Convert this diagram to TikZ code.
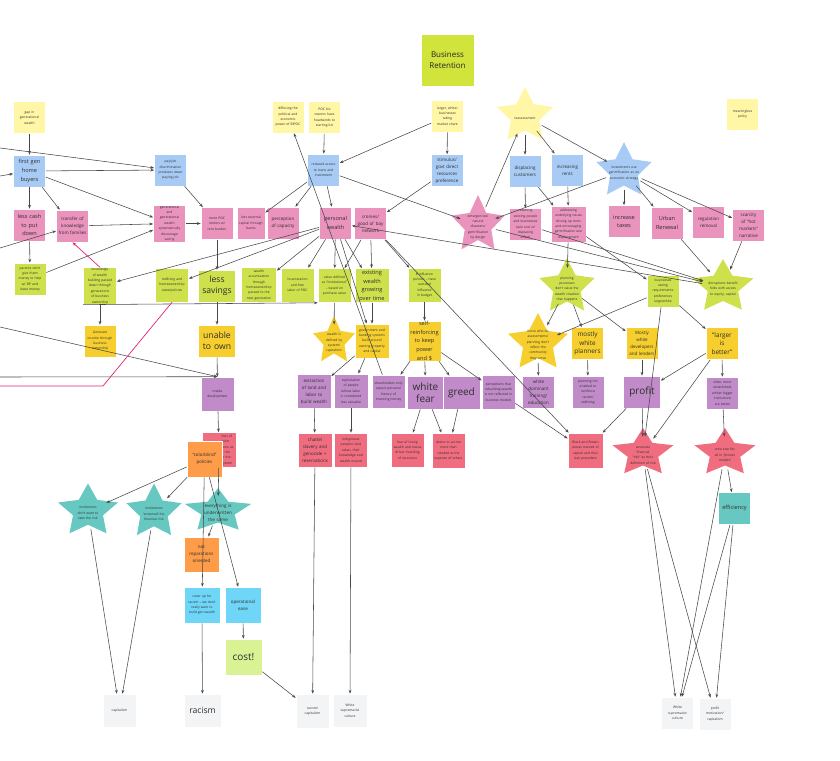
\documentclass[tikz,border=0pt]{standalone}
\usepackage{fontspec}
\setmainfont{Open Sans}
\usetikzlibrary{shapes.geometric,arrows.meta}

\definecolor{cyel}{HTML}{FFF6A6}
\definecolor{clime}{HTML}{CEE14C}
\definecolor{cbr}{HTML}{D0E43C}
\definecolor{cblue}{HTML}{A7CBF4}
\definecolor{cpink}{HTML}{EA93BD}
\definecolor{cgold}{HTML}{F6CF2E}
\definecolor{cpurp}{HTML}{C08BC8}
\definecolor{cred}{HTML}{F06D80}
\definecolor{cteal}{HTML}{67C8C1}
\definecolor{corange}{HTML}{FE9C49}
\definecolor{ccyan}{HTML}{6FD6F8}
\definecolor{cgreen}{HTML}{D9F293}
\definecolor{cgray}{HTML}{F3F4F6}
\definecolor{cline}{HTML}{484848}
\definecolor{cmag}{HTML}{E0217A}
\definecolor{ctext}{HTML}{2E2E2E}

% font sizes used on the notes
\newcommand\nohy{\hyphenpenalty=10000\exhyphenpenalty=10000\relax}
\newcommand\ftA{\fontsize{3.3}{5.4}\selectfont\nohy}
\newcommand\ftB{\fontsize{4.5}{7}\selectfont\nohy}
\newcommand\ftC{\fontsize{5.6}{8.6}\selectfont\nohy}
\newcommand\ftD{\fontsize{6.4}{8.8}\selectfont\nohy}
\newcommand\ftE{\fontsize{8.6}{11.5}\selectfont\nohy}
\newcommand\ftF{\fontsize{10}{12.5}\selectfont\nohy}

% star note: name, x, y, x radius, y radius, colour, text options, text
\newcommand\starnote[8]{%
  \fill[#6] plot[samples at={0,...,9}, variable=\k]
    ({#2+ifthenelse(mod(\k,2)==0,1,0.5)*#4*cos(-90+36*\k)},
     {#3+ifthenelse(mod(\k,2)==0,1,0.5)*#5*sin(-90+36*\k)}) -- cycle;
  \node[starhit, minimum width=1.3*#4, minimum height=1.3*#5] (#1) at (#2,#3) {};
  \node[align=center, inner sep=0pt, text=ctext, #7] at (#2,#3+2) {#8};
}

\begin{document}
\begin{tikzpicture}[x=1pt,y=-1pt,
  box/.style={draw=white, line width=0.6pt, minimum width=32pt, minimum height=32pt,
    inner sep=0.5pt, align=center, text width=29pt, text=ctext},
  tA/.style={font=\ftA, text width=25pt}, tB/.style={font=\ftB, text width=28pt},
  tC/.style={font=\ftC, text width=29pt},
  tD/.style={font=\ftD, text width=30pt}, tE/.style={font=\ftE, text width=36pt},
  tF/.style={font=\ftF, text width=36pt},
  starhit/.style={ellipse, draw=none, inner sep=0pt},
  arr/.style={draw=cline, line width=0.55pt, -{Stealth[length=3.8pt,width=2.8pt]}},
  magarr/.style={draw=cmag, line width=0.7pt, -{Stealth[length=4pt,width=3pt]}},
]
\useasboundingbox (0,0) rectangle (840,760);

% ---------- top row ----------
\node[box, fill=cbr, minimum width=53pt, minimum height=52pt, text width=50pt, font=\fontsize{8}{10.5}\selectfont, text=black!85] (biz) at (447.5,60) {Business\\Retention};
\node[box, fill=cyel, tA] (gap) at (29.5,117.5) {gap in generational wealth};
\node[box, fill=cyel, tA] (diff) at (288,117) {diffusing the political and economic power of BIPOC};
\node[box, fill=cyel, tA] (pocbiz) at (324.5,117.5) {POC biz owners have headwinds to starting biz};
\node[box, fill=cyel, tA] (larger) at (447.5,116) {larger, whiter businesses taking market share};
\node[box, fill=cyel, tA] (meaning) at (742.5,114) {meaningless policy};

% ---------- blue row ----------
\node[box, fill=cblue, tC] (fgb) at (29.5,171) {first gen home buyers};
\node[box, fill=cblue, tA] (payjob) at (170.5,170) {pay/job discrimination produces lower paying job};
\node[box, fill=cblue, tA] (houses) at (323.5,170) {reduced access to loans and investment};
\node[box, fill=cblue, tB] (stim) at (447,170.5) {stimulus/ govt direct resources preference};
\node[box, fill=cblue, tB] (displ) at (525,171) {displacing customers};
\node[box, fill=cblue, tB] (rents) at (567.5,170) {increasing rents};

% ---------- pink row ----------
\node[box, fill=cpink, tC] (loss) at (29.5,225) {less cash to put down};
\node[box, fill=cpink, tB] (transfer) at (72.5,226) {transfer of knowledge from families};
\node[box, fill=cpink, tA] (gensave) at (169.5,223.5) {generational and generational wealth systematically discourage saving};
\node[box, fill=cpink, tA] (renters) at (217,223.5) {more POC renters w/ rent burden};
\node[box, fill=cpink, tA, minimum width=28pt] (lessext) at (251,223) {less external capital through banks};
\node[box, fill=cpink, tB] (percep) at (283,223) {perception of capacity};
\node[box, fill=cpink, tC] (pw) at (335.5,223) {personal wealth};
\node[box, fill=cpink, tB] (cron) at (370.5,223.5) {cronies/ good ol' boy network};
\node[box, fill=cpink, tA] (retain) at (525.5,224.5) {retaining existing people and businesses (w/o cost of displacing effect)};
\node[box, fill=cpink, tA, minimum width=35pt, minimum height=36pt, text width=30pt] (housing) at (568.5,224) {addressing underlying issues driving up rents and encouraging gentrification w/o displacement};
\node[box, fill=cpink, tC] (taxes) at (624,221.5) {increase taxes};
\node[box, fill=cpink, tC] (urban) at (667,223) {Urban Renewal};
\node[box, fill=cpink, tB] (regul) at (708.5,222) {regulation removal};
\node[box, fill=cpink, tB] (scarc) at (748.5,225) {scarcity of ``hot markets'' narrative};

% ---------- lime row ----------
\node[box, fill=clime, tA] (parents) at (30,279) {parents don't give them money to help w/ DP and leave money};
\node[box, fill=clime, tA, minimum width=33pt, minimum height=33pt, text width=29pt] (know) at (100,286) {knowledge of wealth building passed down through generations of business ownership};
\node[box, fill=clime, tA, minimum width=33pt, minimum height=34pt, text width=28pt] (redl) at (172,285) {redlining and homeownership rates/policies};
\node[box, fill=clime, tE] (lsav) at (217,286) {less\\savings};
\node[box, fill=clime, tA, minimum width=35pt, minimum height=35pt, text width=31pt] (waccum) at (259,285) {wealth accumulation through homeownership passed to the next generation};
\node[box, fill=clime, tA, minimum width=33pt, minimum height=34pt] (incar) at (297.5,285) {incarceration and free labor of POC};
\node[box, fill=clime, tA, minimum width=33pt, minimum height=34pt, text width=28pt] (valdef) at (334.5,285.5) {value defined as ``institutional'' -- based on purchase value};
\node[box, fill=clime, tC, minimum width=34pt, minimum height=34pt] (exist) at (372,285.5) {existing wealth growing over time};
\node[box, fill=clime, tA, minimum width=33pt, minimum height=34pt, text width=28pt] (infl) at (424.5,285) {\$ influence policies -- have outsized influence in budget};
\node[box, fill=clime, tA] (bizsee) at (663,291) {businesses seeing requirements preferences large/white};

% ---------- gold row ----------
\node[box, fill=cgold, tA] (genin) at (100,341) {Generate income through business ownership};
\node[box, fill=cgold, tE] (unable) at (217,341) {unable\\to own};
\node[box, fill=cgold, tA, minimum width=34pt, minimum height=34pt, text width=30pt] (govt) at (372,341) {government and banking systems built around owning property and capital};
\node[box, fill=cgold, tC, minimum width=33pt, minimum height=34pt] (selfr) at (424.5,341) {self-\\reinforcing\\to keep\\power and \$};
\node[box, fill=cgold, tD] (mwp) at (587.5,343.5) {mostly white planners};
\node[box, fill=cgold, tB] (mwd) at (642,343.5) {Mostly\\white\\developers\\and lenders};
\node[box, fill=cgold, tD] (lib) at (722,343.5) {``larger\\is\\better''};

% ---------- purple row ----------
\node[box, fill=cpurp, tA, minimum width=33pt, minimum height=34pt] (media) at (217.5,394) {media development};
\node[box, fill=cpurp, tB, minimum width=34pt, minimum height=34pt, text width=30pt] (extr) at (314,391) {extraction of land and labor to build wealth};
\node[box, fill=cpurp, tA, minimum width=34pt, minimum height=34pt, text width=29pt] (pur2) at (351,391) {exploitation of people whose labor is considered less valuable};
\node[box, fill=cpurp, tA, minimum width=33pt, minimum height=33pt, text width=29pt] (pur3) at (388.5,391.5) {shareholders only expect personal history of investing money};
\node[box, fill=cpurp, tF, minimum width=33pt, minimum height=33pt] (wfear) at (425.5,392.5) {white\\fear};
\node[box, fill=cpurp, tF, minimum width=33pt, minimum height=33pt] (greed) at (461.5,392.5) {greed};
\node[box, fill=cpurp, tA, minimum width=33pt, minimum height=34pt, text width=29pt] (pur6) at (498.5,392) {perceptions that rebuilding wealth is not reflected in business models};
\node[box, fill=cpurp, tB] (wdom) at (538.5,392) {white dominant training/ education};
\node[box, fill=cpurp, tA] (pne) at (588,392) {planning not enabled to reinforce racism/ redlining};
\node[box, fill=cpurp, tF] (profit) at (642,392) {profit};
\node[box, fill=cpurp, tA, text width=28pt] (older) at (722.5,393) {older, more established, whiter bigger institutions are better};

% ---------- red row ----------
\node[box, fill=cred, minimum width=34pt, minimum height=35pt] (comm) at (219,450) {};
\node[font=\ftA, text=ctext, align=left, text width=13pt, inner sep=0pt, anchor=east] (commtext) at ([xshift=-1.5pt]comm.east) {ities of color seen as a risk in the system};
\node[box, fill=corange, tB, minimum width=35pt, minimum height=36pt] (color) at (204.5,459) {``colorblind'' policies};
\node[box, fill=cred, tB, minimum width=34pt, minimum height=34pt, text width=30pt] (chat) at (315,450) {chattel slavery and genocide + reservations};
\node[box, fill=cred, tA, minimum width=33pt, minimum height=34pt, text width=29pt] (red2) at (351,450) {Indigenous peoples' land taken, their knowledge and wealth erased};
\node[box, fill=cred, tA, minimum width=33pt, minimum height=34pt, text width=29pt] (red3) at (407.5,450) {fear of losing wealth and status drives hoarding of resources};
\node[box, fill=cred, tA, minimum width=33pt, minimum height=35pt, text width=29pt] (red4) at (448.5,450.5) {desire to accrue more than needed at the expense of others};
\node[box, fill=cred, tA, minimum width=35pt, minimum height=35pt, text width=29pt] (bbp) at (585.5,450.5) {Black and Brown places starved of capital and thus lack precedent};

% ---------- lower part ----------
\node[box, fill=cteal, tC] (effic) at (734.5,508.5) {efficiency};
\node[box, fill=corange, tB, minimum width=35pt, minimum height=35pt] (norep) at (201.5,554.5) {not reparations oriented};
\node[box, fill=ccyan, tA, minimum width=36pt, minimum height=36pt, text width=29pt] (cover) at (202,605) {cover up for racism -- we don't really want to build gen wealth};
\node[box, fill=ccyan, tB, minimum width=36pt, minimum height=36pt] (opease) at (243,605) {operational ease};
\node[box, fill=cgreen, tF, minimum width=35pt, minimum height=36pt] (cost) at (243.5,657) {cost!};

\node[box, fill=cgray, tA, minimum width=33pt, minimum height=33pt] (capit) at (119.5,710.5) {capitalism};
\node[box, fill=cgray, tE, minimum width=33pt, minimum height=33pt] (racism) at (202.5,710.5) {racism};
\node[box, fill=cgray, tA, minimum width=33pt, minimum height=34pt] (rcap) at (312.5,711) {racism/ capitalism};
\node[box, fill=cgray, tA, minimum width=34pt, minimum height=33pt] (wsc1) at (350,710.5) {White supremacist culture};
\node[box, fill=cgray, tA] (wsc2) at (677.5,713) {White supremacist culture};
\node[box, fill=cgray, tA] (pmc) at (715,714) {profit motivation/ capitalism};

% ---------- stars ----------
\starnote{reass}{525}{116}{29.5}{29}{cyel}{text width=40pt, font=\ftA}{reassessment}
\starnote{invest}{624}{171}{29}{29}{cblue}{text width=30pt, font=\ftA}{investments use gentrification as an economic strategy}
\starnote{emerg}{478}{225}{28}{30}{cpink}{text width=26pt, font=\ftA}{emergencies/ natural disasters/ gentrification by design}
\starnote{plan}{567}{287}{29}{29}{clime}{text width=28pt, font=\ftA}{planning processes don't value the wealth creation that happens}
\starnote{disrupt}{723}{287}{32}{28}{clime}{text width=32pt, font=\ftA}{disruptions benefit folks with access to equity, capital}
\starnote{gstar}{538}{343}{31.5}{30}{cgold}{text width=30pt, font=\ftA}{those who do assessments/ planning don't reflect the community they serve}
\starnote{wstar}{334}{341}{22}{25}{cgold}{text width=22pt, font=\ftA}{wealth is defined by system/ capitalism}
\starnote{assoc}{643}{453}{32}{25}{cred}{text width=28pt, font=\ftA}{associate financial ``risk'' as their definition of risk}
\starnote{whoelse}{725}{453}{32}{25}{cred}{text width=28pt, font=\ftA}{who else fits all in ``proven models''}
\starnote{t1}{88}{511}{31.5}{27.5}{cteal}{text width=26pt, font=\ftA}{institutions don't want to take the risk}
\starnote{t2}{154}{512}{29}{28.5}{cteal}{text width=26pt, font=\ftA}{institutions `screened' the financial risk}
\starnote{every}{218}{511}{35}{23}{cteal}{text width=30pt, font=\ftB}{everything is underwritten the same}

% ---------- loose ends at the left border ----------
\coordinate (w1) at (0,148);
\coordinate (w2) at (0,176);
\coordinate (w3) at (0,248);
\coordinate (w4) at (0,327);
\coordinate (w5) at (0,377);
\coordinate (mbend) at (103,386);
\coordinate (mleft) at (0,386);

% ---------- connectors ----------
\foreach \a/\b in {
  gap/fgb, fgb/loss, fgb/transfer, fgb/payjob, fgb/gensave, loss/parents,
  transfer/gensave, parents/gensave, gensave/renters, payjob/renters,
  renters/lsav, lsav/unable, unable/media, media/comm, comm/every,
  color/t1, color/t2, color/cover, color/opease, every/norep,
  t1/capit, t2/capit, cover/racism, opease/cost, cost/rcap,
  chat/rcap, red2/wsc1, extr/chat, pur2/red2,
  wfear/red3, wfear/red4, greed/red4,
  selfr/pur3, selfr/wfear, selfr/greed, selfr/pur6,
  govt/extr, govt/pur2, infl/selfr, exist/govt, valdef/wstar,
  pw/know, pw/redl, pw/waccum, pw/incar, pw/valdef, pw/exist, pw/govt,
  cron/valdef, cron/exist, cron/infl, cron/bbp,
  pur3/diff, pur6/bbp, disrupt/pw, emerg/disrupt, retain/disrupt,
  urban/disrupt, scarc/disrupt,
  housing/plan, housing/bizsee, plan/gstar, plan/mwp, plan/mwd,
  bizsee/gstar, bizsee/lib, bizsee/assoc,
  gstar/wdom, mwp/pne, mwd/profit, lib/profit, lib/assoc, lib/older,
  profit/assoc, profit/bbp, older/whoelse, whoelse/effic,
  assoc/wsc2, assoc/pmc, whoelse/wsc2, effic/wsc2, effic/pmc,
  pocbiz/houses, houses/lessext, houses/percep, houses/pw, houses/emerg,
  larger/houses, larger/stim, stim/cron,
  reass/displ, reass/rents, reass/invest, emerg/reass, invest/emerg,
  displ/retain, displ/housing, rents/housing,
  invest/taxes, invest/urban, invest/regul, invest/scarc,
  know/genin, w1/payjob, w2/fgb, w3/transfer}
  \draw[arr] (\a) -- (\b);

\draw[arr] (w4) -- (media.north);
\draw[arr] (w5) -- (media.north);
\draw[arr] (know.south west) -- (valdef.south west);
\draw[magarr] (know.north) -- (transfer.south);
\draw[draw=cmag, line width=0.7pt] (redl.south) -- (mbend) -- (mleft);
\end{tikzpicture}
\end{document}
